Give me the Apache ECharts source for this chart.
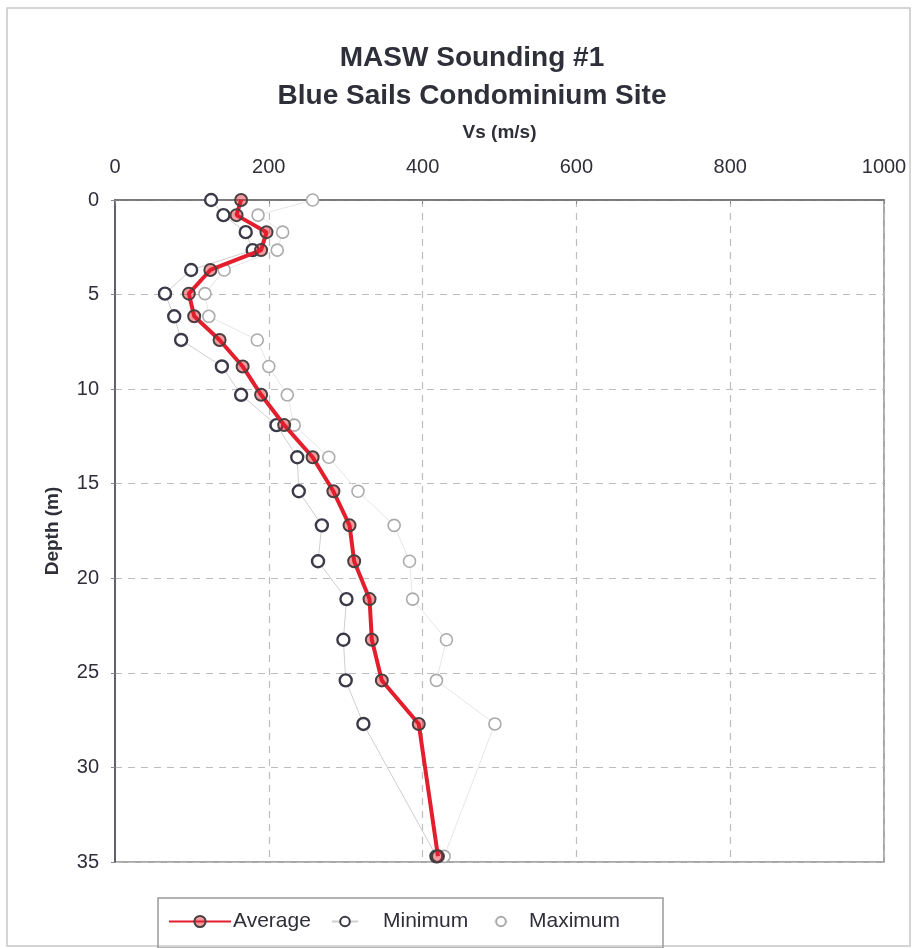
<!DOCTYPE html>
<html lang="en">
<head>
    <meta charset="UTF-8">
    <title>MASW Sounding #1</title>
    <script src="https://cdn.jsdelivr.net/npm/echarts@6/dist/echarts.min.js"></script>
    <style>
        html, body { margin: 0; padding: 0; background: #fff; }
        #main { width: 917px; height: 948px; }
    </style>
</head>
<body>
<div id="main"></div>
<script>
    // depth of each reading (m)
    var depth = [0, 0.8, 1.7, 2.65, 3.7, 4.95, 6.15, 7.4, 8.8, 10.3, 11.9, 13.6, 15.4, 17.2, 19.1, 21.1, 23.25, 25.4, 27.7, 34.7];
    // shear wave velocity Vs (m/s)
    var vsAverage = [164, 158, 197, 190, 124, 96, 103, 136, 166, 190, 220, 257, 284, 305, 311, 331, 334, 347, 395, 420];
    var vsMinimum = [125, 141, 170, 179, 99, 65, 77, 86, 139, 164, 210, 237, 239, 269, 264, 301, 297, 300, 323, 418];
    var vsMaximum = [257, 186, 218, 211, 142, 117, 122, 185, 200, 224, 233, 278, 316, 363, 383, 387, 431, 418, 494, 428];

    function pairs(vals) {
        return vals.map(function (v, i) { return [v, depth[i]]; });
    }

    var font = 'Liberation Sans, Arial, sans-serif';
    var chart = echarts.init(document.getElementById('main'));

    var option = {
        backgroundColor: '#fff',
        animation: false,
        title: {
            text: 'MASW Sounding #1\nBlue Sails Condominium Site',
            left: 467,
            top: 34,
            textAlign: 'center',
            textStyle: { fontFamily: font, fontSize: 28, fontWeight: 'bold', color: '#2f2f3a', lineHeight: 38 }
        },
        graphic: [
            { type: 'rect', shape: { x: 7, y: 8, width: 903, height: 938 }, style: { fill: 'none', stroke: '#c8c8c8', lineWidth: 1.5 }, silent: true },
            { type: 'rect', shape: { x: 158, y: 898, width: 505, height: 50 }, style: { fill: 'none', stroke: '#9a9a9a', lineWidth: 1.5 }, silent: true }
        ],
        legend: [
            { data: ['Average'], left: 163, top: 906, itemWidth: 62, itemHeight: 14, itemGap: 0,
              textStyle: { fontFamily: font, fontSize: 21, color: '#2f2f3a', padding: [0, 0, 0, -3] } },
            { data: ['Minimum'], left: 326, top: 906, itemWidth: 26, itemHeight: 12, itemGap: 0,
              textStyle: { fontFamily: font, fontSize: 21, color: '#2f2f3a', padding: [0, 0, 0, 20] } },
            { data: ['Maximum'], left: 488, top: 906, itemWidth: 14, itemHeight: 12, itemGap: 0,
              textStyle: { fontFamily: font, fontSize: 21, color: '#2f2f3a', padding: [0, 0, 0, 16] } }
        ],
        grid: {
            left: 115, right: 33, top: 200, bottom: 86,
            show: true, borderColor: '#8a8a8a', borderWidth: 1.5, backgroundColor: '#fff'
        },
        xAxis: {
            type: 'value',
            position: 'top',
            min: 0, max: 1000, interval: 200,
            name: 'Vs (m/s)',
            nameLocation: 'middle',
            nameGap: 58,
            nameTextStyle: { fontFamily: font, fontSize: 19, fontWeight: 'bold', color: '#2f2f3a' },
            axisLine: { show: true, lineStyle: { color: '#6a6a6a', width: 1.5 } },
            axisTick: { show: true, inside: true, length: 4, lineStyle: { color: '#888' } },
            axisLabel: { margin: 23, fontFamily: font, fontSize: 20, color: '#2f2f3a',
                         formatter: function (v) { return String(v); } },
            splitLine: { show: true, lineStyle: { color: '#bdbdbd', type: [7, 6], width: 1.2 } }
        },
        yAxis: {
            type: 'value',
            inverse: true,
            min: 0, max: 35, interval: 5,
            name: 'Depth (m)',
            nameLocation: 'middle',
            nameGap: 53,
            nameTextStyle: { fontFamily: font, fontSize: 19, fontWeight: 'bold', color: '#2f2f3a' },
            axisLine: { show: true, lineStyle: { color: '#4a4a5a', width: 1.5 } },
            axisTick: { show: true, length: 4, lineStyle: { color: '#888' } },
            axisLabel: { margin: 16, fontFamily: font, fontSize: 20, color: '#2f2f3a' },
            splitLine: { show: true, lineStyle: { color: '#bdbdbd', type: [7, 6], width: 1.2 } }
        },
        series: [
            {
                name: 'Maximum',
                type: 'line',
                data: pairs(vsMaximum),
                symbol: 'circle',
                symbolSize: 12,
                lineStyle: { color: '#e6e6e6', width: 1 },
                itemStyle: { color: '#ffffff', borderColor: '#ababab', borderWidth: 1.6 },
                z: 2
            },
            {
                name: 'Minimum',
                type: 'line',
                data: pairs(vsMinimum),
                symbol: 'circle',
                symbolSize: 12,
                lineStyle: { color: '#cfcfcf', width: 1 },
                itemStyle: { color: '#ffffff', borderColor: '#3a3a48', borderWidth: 2.4 },
                z: 3
            },
            {
                name: 'Average',
                type: 'line',
                data: pairs(vsAverage),
                symbol: 'circle',
                symbolSize: 12,
                lineStyle: { color: '#e31e2d', width: 4 },
                itemStyle: { color: 'rgba(227,30,45,0.45)', borderColor: '#4a4040', borderWidth: 2 },
                z: 4
            }
        ]
    };

    chart.setOption(option);
</script>
</body>
</html>
